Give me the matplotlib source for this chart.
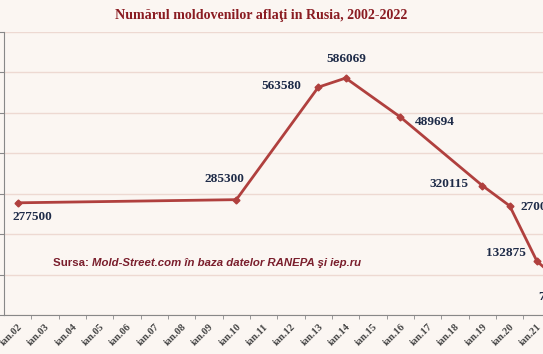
# Numarul moldovenilor aflati in Rusia, 2002-2022
import matplotlib
matplotlib.use("Agg")
import matplotlib.pyplot as plt

# ---- date ----
ani_etichete = ["ian.%02d" % (a % 100) for a in range(2002, 2023)]
ani = [2002, 2010, 2013, 2014, 2016, 2019, 2020, 2021, 2022]
valori = [277500, 285300, 563580, 586069, 489694, 320115, 270000, 132875, 74000]
# deplasarea etichetelor fata de punct (pixeli)
offset_etichete = [(15, -14), (-12, 21), (-37, 1), (1, 19), (34, -5),
                   (-33, 2), (31, -1), (-31, 8), (-10, -12)]

culoare_linie = "#B0403E"
culoare_fond = "#FBF6F2"
culoare_grila = "#EDD9D2"

fig = plt.figure(figsize=(5.43, 3.54), dpi=100, facecolor=culoare_fond)
# graficul original e taiat in dreapta -> axa iese din figura
ax = fig.add_axes([4 / 543, 39 / 354, 574 / 543, 283 / 354])
ax.set_facecolor(culoare_fond)

x = [a - 2002 for a in ani]
ax.plot(x, valori, color=culoare_linie, lw=2.0, marker="D", ms=3.5,
        markeredgecolor=culoare_linie, zorder=3)

for xi, v, (dx, dy) in zip(x, valori, offset_etichete):
    ax.annotate(str(v), (xi, v), xytext=(dx, dy), textcoords="offset pixels",
                ha="center", va="center", fontsize=9.5, fontweight="bold",
                family="Liberation Serif", color="#1E2B48", zorder=4)

ax.set_xlim(-0.5, len(ani_etichete) - 0.5)
ax.set_ylim(0, 700000)
ax.set_yticks(range(0, 700001, 100000))
ax.yaxis.grid(True, color=culoare_grila, lw=1)
ax.set_axisbelow(True)
ax.tick_params(axis="y", labelleft=False, length=4, color="#888888")

ax.set_xticks(range(len(ani_etichete)))
ax.set_xticklabels(ani_etichete, rotation=45, ha="right", rotation_mode="anchor",
                   fontsize=7.5, fontweight="bold", family="Liberation Serif",
                   color="#444444")
ax.set_xticks([i + 0.5 for i in range(len(ani_etichete))], minor=True)
ax.tick_params(axis="x", which="major", length=0, pad=5)
ax.tick_params(axis="x", which="minor", length=3, color="#888888")

for s in ["top", "right"]:
    ax.spines[s].set_visible(False)
for s in ["left", "bottom"]:
    ax.spines[s].set_color("#888888")
    ax.spines[s].set_linewidth(0.8)

fig.text(261 / 543, 1 - 15 / 354, "Numărul moldovenilor aflaţi in Rusia, 2002-2022",
         ha="center", va="center", fontsize=10.1, fontweight="bold",
         family="Liberation Serif", color="#8A1C22")

t1 = fig.text(53 / 543, 1 - 263 / 354, "Sursa: ", ha="left", va="center",
              fontsize=8.2, fontweight="bold", family="Liberation Sans", color="#7A1E2C")
fig.canvas.draw()
ax.annotate("Mold-Street.com în baza datelor RANEPA şi iep.ru", xy=(1, 0.5),
            xycoords=t1, ha="left", va="center", fontsize=8.2, fontweight="bold",
            fontstyle="italic", family="Liberation Sans", color="#7A1E2C",
            annotation_clip=False)

fig.savefig("out.png", dpi=100, facecolor=culoare_fond)
